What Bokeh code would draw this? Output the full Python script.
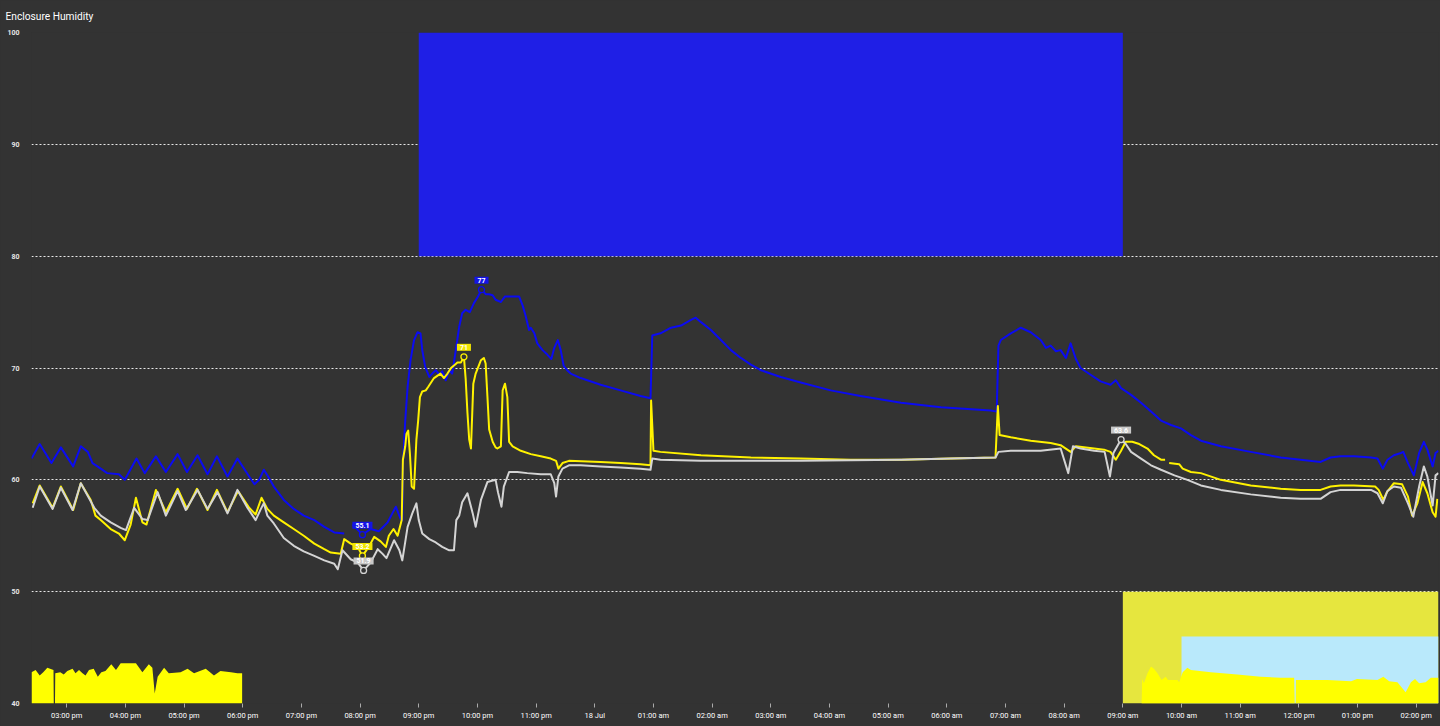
import numpy as np
from bokeh.plotting import figure
from bokeh.models import FixedTicker, Label, GlobalInlineStyleSheet
from bokeh.embed import file_html
from bokeh.resources import INLINE

nan = float("nan")

# x values: hours since 17 Jul 00:00
x_start, x_end = 14.40, 38.38

chart_title = "Enclosure Humidity"
tick_hours = list(range(15, 39))
tick_labels = ["03:00 pm", "04:00 pm", "05:00 pm", "06:00 pm", "07:00 pm", "08:00 pm",
               "09:00 pm", "10:00 pm", "11:00 pm", "18 Jul", "01:00 am", "02:00 am",
               "03:00 am", "04:00 am", "05:00 am", "06:00 am", "07:00 am", "08:00 am",
               "09:00 am", "10:00 am", "11:00 am", "12:00 pm", "01:00 pm", "02:00 pm"]
y_ticks = [40, 50, 60, 70, 80, 90, 100]

blue_t = [14.40, 14.54, 14.74, 14.90, 15.11, 15.24, 15.36, 15.44, 15.58, 15.69,
          15.89, 15.99, 16.19, 16.33, 16.52, 16.69, 16.89, 17.05, 17.23, 17.40,
          17.56, 17.74, 17.91, 18.11, 18.20, 18.28, 18.36, 18.42, 18.53, 18.70,
          18.87, 19.04, 19.22, 19.39, 19.56, 19.73, 19.80, 19.87, 20.04, 20.18,
          20.32, 20.47, 20.55, 20.61, 20.69, 20.72, 20.73, 20.77, 20.81, 20.86,
          20.92, 20.98, 21.03, 21.06, 21.11, 21.18, 21.23, 21.29, 21.35, 21.40,
          21.46, 21.52, 21.57, 21.60, 21.64, 21.69, 21.74, 21.80, 21.87, 21.94,
          22.01, 22.07, 22.14, 22.20, 22.26, 22.31, 22.40, 22.47, 22.57, 22.71,
          22.77, 22.82, 22.88, 22.91, 22.97, 23.02, 23.11, 23.19, 23.26, 23.31,
          23.37, 23.42, 23.47, 23.53, 23.59, 23.76, 24.10, 24.44, 24.78, 24.95,
          24.98, 25.12, 25.30, 25.47, 25.64, 25.72, 25.81, 25.98, 26.15, 26.32,
          26.49, 26.66, 26.83, 27.17, 27.51, 28.02, 28.53, 29.22, 29.90, 30.75,
          30.85, 30.88, 30.92, 31.09, 31.26, 31.43, 31.60, 31.69, 31.77, 31.86,
          31.94, 32.03, 32.11, 32.20, 32.28, 32.45, 32.62, 32.79, 32.88, 32.97,
          33.14, 33.31, 33.48, 33.65, 33.82, 33.99, 34.16, 34.33, 34.67, 35.18,
          35.69, 36.03, 36.37, 36.54, 36.71, 36.94, 37.23, 37.34, 37.43, 37.51,
          37.62, 37.74, 37.78, 37.86, 37.96, 38.05, 38.13, 38.19, 38.28, 38.33,
          38.38]
blue_v = [61.9, 63.2, 61.5, 62.9, 61.2, 63.0, 62.5, 61.5, 61.0, 60.6,
          60.5, 60.0, 61.9, 60.6, 62.1, 60.7, 62.3, 60.7, 62.2, 60.5,
          62.1, 60.3, 61.9, 60.3, 59.6, 60.0, 60.9, 60.4, 59.4, 58.2,
          57.4, 56.8, 56.4, 55.8, 55.3, 55.2, nan, 56.0, 55.1, 55.6,
          55.4, 56.2, 57.0, 57.6, 56.5, 56.4, 61.4, 65.3, 68.3, 70.7,
          72.5, 73.2, 73.1, 71.6, 70.1, 69.2, 69.5, 69.8, 69.4, 69.7,
          68.9, 69.8, 69.5, 70.5, 71.9, 73.7, 74.9, 75.2, 75.0, 75.8,
          76.4, 77.0, 76.6, 76.6, 76.5, 76.1, 75.9, 76.4, 76.4, 76.4,
          75.6, 74.7, 73.4, 73.6, 73.1, 72.2, 71.6, 71.2, 70.8, 71.8,
          72.5, 71.6, 70.2, 69.8, 69.5, 69.1, 68.5, 68.0, 67.5, 67.3,
          72.9, 73.1, 73.6, 73.8, 74.3, 74.5, 74.1, 73.4, 72.5, 71.6,
          70.9, 70.3, 69.8, 69.2, 68.7, 68.0, 67.5, 66.9, 66.5, 66.2,
          66.1, 72.0, 72.5, 73.1, 73.6, 73.2, 72.5, 71.8, 72.0, 71.5,
          71.6, 70.9, 72.2, 70.8, 70.0, 69.4, 68.8, 68.5, 68.9, 68.2,
          67.6, 66.9, 66.1, 65.3, 64.9, 64.6, 64.0, 63.5, 63.0, 62.5,
          62.0, 61.8, 61.6, 62.0, 62.1, 62.1, 62.0, 61.9, 61.0, 61.8,
          62.2, 62.4, 62.5, 61.5, 60.4, 62.4, 63.4, 62.7, 61.2, 62.4,
          62.6]

yellow_t = [14.42, 14.54, 14.76, 14.90, 15.11, 15.24, 15.41, 15.49, 15.58, 15.75,
            15.89, 15.99, 16.09, 16.18, 16.29, 16.36, 16.52, 16.69, 16.89, 17.05,
            17.22, 17.40, 17.56, 17.74, 17.92, 18.11, 18.22, 18.32, 18.42, 18.53,
            18.70, 18.87, 19.04, 19.22, 19.39, 19.50, 19.67, 19.73, 19.84, 19.96,
            20.04, 20.16, 20.24, 20.35, 20.44, 20.49, 20.57, 20.64, 20.71, 20.73,
            20.77, 20.79, 20.82, 20.85, 20.88, 20.92, 20.96, 20.99, 21.02, 21.06,
            21.12, 21.16, 21.26, 21.37, 21.43, 21.49, 21.55, 21.66, 21.72, 21.77,
            21.80, 21.83, 21.86, 21.89, 21.93, 21.97, 22.06, 22.11, 22.14, 22.17,
            22.20, 22.26, 22.31, 22.34, 22.40, 22.43, 22.47, 22.51, 22.54, 22.60,
            22.74, 22.91, 23.08, 23.25, 23.34, 23.38, 23.45, 23.56, 24.10, 24.44,
            24.78, 24.95, 24.96, 25.00, 25.12, 25.81, 26.66, 27.51, 28.36, 29.22,
            30.07, 30.83, 30.87, 30.90, 31.09, 31.43, 31.77, 31.94, 32.11, 32.20,
            32.51, 32.68, 32.79, 32.88, 32.97, 33.05, 33.16, 33.28, 33.42, 33.53,
            33.65, 33.72, 33.75, 33.79, 33.96, 34.02, 34.16, 34.33, 34.67, 35.18,
            35.69, 36.03, 36.37, 36.54, 36.71, 36.94, 37.30, 37.36, 37.44, 37.50,
            37.62, 37.76, 37.86, 37.93, 38.02, 38.11, 38.19, 38.28, 38.33, 38.36]
yellow_v = [57.9, 59.5, 57.5, 59.4, 57.3, 59.7, 58.2, 56.8, 56.4, 55.6,
            55.2, 54.6, 56.0, 58.4, 56.2, 56.0, 59.1, 57.1, 59.2, 57.4,
            59.2, 57.3, 59.1, 57.1, 59.0, 57.5, 56.9, 58.4, 57.4, 56.8,
            56.2, 55.6, 55.0, 54.3, 53.8, 53.5, 53.4, 54.7, 54.3, 54.0,
            53.2, 54.1, 54.9, 54.5, 54.0, 55.0, 55.6, 55.0, 56.4, 61.8,
            63.0, 64.1, 64.4, 62.3, 59.4, 59.2, 63.6, 65.3, 67.4, 67.9,
            68.0, 68.3, 69.1, 69.5, 69.1, 69.5, 70.0, 70.5, 70.5, 71.0,
            69.0, 66.0, 63.6, 62.8, 68.6, 69.5, 70.7, 70.9, 70.4, 67.5,
            64.5, 63.4, 62.9, 62.8, 63.0, 68.0, 68.6, 67.4, 63.4, 63.0,
            62.6, 62.3, 62.1, 61.9, 61.7, 61.0, 61.5, 61.7, 61.6, 61.5,
            61.4, 61.3, 67.1, 62.6, 62.5, 62.2, 62.0, 61.9, 61.8, 61.8,
            61.9, 62.0, 66.6, 64.0, 63.8, 63.5, 63.3, 63.1, 62.5, 63.0,
            62.8, 62.7, 62.5, 61.8, 62.6, 63.4, 63.4, 63.2, 62.8, 62.2,
            61.8, 61.8, nan, 61.5, 61.4, 61.0, 60.7, 60.6, 60.0, 59.5,
            59.2, 59.1, 59.1, 59.4, 59.5, 59.5, 59.4, 59.1, 58.2, 58.9,
            59.7, 59.6, 58.5, 56.8, 57.9, 59.8, 58.8, 57.1, 56.7, 58.3]

white_t = [14.42, 14.54, 14.76, 14.90, 15.10, 15.24, 15.47, 15.58, 15.75, 15.92,
           16.01, 16.15, 16.29, 16.38, 16.55, 16.69, 16.89, 17.03, 17.23, 17.40,
           17.57, 17.74, 17.91, 18.08, 18.22, 18.31, 18.36, 18.42, 18.53, 18.70,
           18.87, 19.04, 19.22, 19.39, 19.56, 19.62, 19.70, 19.84, 19.96, 20.06,
           20.18, 20.30, 20.38, 20.45, 20.58, 20.67, 20.72, 20.81, 20.89, 20.96,
           21.00, 21.06, 21.18, 21.29, 21.40, 21.52, 21.60, 21.64, 21.69, 21.74,
           21.83, 21.92, 21.97, 22.06, 22.17, 22.31, 22.35, 22.41, 22.45, 22.54,
           22.68, 22.85, 23.08, 23.25, 23.31, 23.34, 23.38, 23.45, 23.56, 23.76,
           24.10, 24.44, 24.78, 24.95, 24.98, 25.12, 25.81, 27.51, 29.22, 30.07,
           30.83, 30.88, 31.09, 31.60, 31.94, 32.07, 32.15, 32.28, 32.51, 32.69,
           32.78, 32.84, 32.97, 33.05, 33.14, 33.31, 33.48, 33.65, 33.88, 34.10,
           34.33, 34.67, 35.18, 35.69, 36.03, 36.37, 36.54, 36.71, 37.23, 37.34,
           37.43, 37.51, 37.62, 37.74, 37.86, 37.95, 38.05, 38.13, 38.19, 38.28,
           38.33, 38.38]
white_v = [57.5, 59.4, 57.4, 59.3, 57.3, 59.7, 57.5, 56.8, 56.2, 55.7,
           55.5, 57.5, 56.5, 56.4, 58.9, 56.8, 59.0, 57.3, 59.1, 57.4,
           58.9, 57.0, 59.1, 57.5, 56.4, 57.4, 57.9, 56.8, 56.1, 54.8,
           54.1, 53.6, 53.2, 52.8, 52.5, 52.0, 53.7, 52.9, 52.6, 51.9,
           52.6, 53.8, 53.4, 53.0, 54.6, 53.7, 52.8, 55.8, 57.0, 57.9,
           56.4, 55.2, 54.7, 54.4, 54.0, 53.7, 53.7, 56.4, 56.8, 58.0,
           58.8, 57.0, 55.8, 58.2, 59.8, 60.0, 58.9, 57.6, 59.4, 60.7,
           60.7, 60.6, 60.5, 60.5, 59.7, 58.5, 60.3, 61.0, 61.3, 61.3,
           61.2, 61.1, 61.0, 60.9, 61.9, 61.8, 61.7, 61.7, 61.8, 61.9,
           62.0, 62.5, 62.6, 62.6, 62.8, 60.6, 63.0, 62.8, 62.6, 62.5,
           60.3, 62.4, 63.6, 63.2, 62.5, 61.9, 61.3, 60.9, 60.4, 60.0,
           59.5, 59.1, 58.7, 58.4, 58.3, 58.3, 58.9, 59.1, 59.1, 58.8,
           57.9, 59.0, 59.4, 59.3, 57.9, 56.7, 59.4, 61.2, 60.3, 57.7,
           60.4, 60.6]

# bottom state areas (left and right yellow fills)
left_area_t = [14.40, 14.47, 14.54, 14.60, 14.67, 14.775, 14.78, 14.80, 14.805, 14.89,
               14.95, 15.01, 15.10, 15.15, 15.21, 15.27, 15.32, 15.38, 15.46, 15.53,
               15.59, 15.66, 15.76, 15.84, 15.92, 16.18, 16.29, 16.40, 16.46, 16.50,
               16.55, 16.66, 16.74, 16.94, 17.06, 17.17, 17.37, 17.51, 17.62, 17.80,
               17.91, 17.99]
left_area_v = [42.8, 43.0, 42.5, 42.8, 43.2, 43.0, 40.0, 40.0, 42.7, 42.8,
               42.6, 42.9, 43.1, 42.7, 43.0, 42.7, 42.5, 43.0, 43.1, 42.4,
               42.8, 42.9, 43.5, 43.0, 43.6, 43.6, 42.8, 43.5, 43.2, 40.9,
               42.4, 43.2, 42.7, 42.8, 43.1, 42.7, 43.1, 42.5, 42.9, 42.8,
               42.7, 42.7]
right_area_t = [33.32, 33.33, 33.36, 33.42, 33.48, 33.53, 33.59, 33.66, 33.73, 33.77,
                33.93, 33.96, 34.02, 34.10, 34.16, 34.50, 34.95, 35.35, 35.69, 35.92,
                35.93, 35.945, 35.95, 36.49, 36.89, 36.99, 37.34, 37.44, 37.54, 37.68,
                37.82, 37.91, 37.98, 38.05, 38.16, 38.25, 38.33, 38.38]
right_area_v = [40.0, 42.2, 41.8, 42.7, 43.3, 43.1, 42.7, 42.1, 42.4, 42.1,
                42.1, 41.9, 42.8, 43.2, 43.0, 42.8, 42.6, 42.4, 42.3, 42.3,
                40.0, 40.0, 42.1, 42.1, 42.0, 42.2, 42.1, 42.4, 42.0, 41.9,
                41.0, 41.9, 42.2, 41.8, 41.9, 42.3, 42.3, 42.3]

# shaded bands
band_left = [21.0, 33.0, 34.0]
band_right = [33.0, x_end, x_end]
band_bottom = [80, 40, 40]
band_top = [100, 50, 46]

assert len(blue_t) == len(blue_v)
assert len(yellow_t) == len(yellow_v)
assert len(white_t) == len(white_v)
assert len(left_area_t) == len(left_area_v)
assert len(right_area_t) == len(right_area_v)

BG = "#333333"
band_colors = ["#1f1fe6", "#e6e63e", "#b9e9fb"]
series = [
    (blue_t, blue_v, "#0b0bf2", "#1414e6"),
    (yellow_t, yellow_v, "#fff200", "#f2e600"),
    (white_t, white_v, "#d4d4d4", "#c8c8c8"),
]

p = figure(width=1440, height=726, x_range=(x_start, x_end), y_range=(40, 100),
           output_backend="svg", toolbar_location=None,
           background_fill_color=BG, border_fill_color=BG,
           min_border_left=31, min_border_right=2, min_border_top=32, min_border_bottom=23)
p.outline_line_color = None
p.stylesheets = [GlobalInlineStyleSheet(css="body { background-color: #333333; }")]

p.title.text = chart_title
p.title.text_color = "#ffffff"
p.title.text_font = "Roboto"
p.title.text_font_size = "10.2px"
p.title.text_font_style = "normal"
p.title.align = "left"
p.title.vertical_align = "top"
p.title.offset = -26
p.title.standoff = 18

p.xgrid.visible = False
p.ygrid.ticker = FixedTicker(ticks=y_ticks)
p.ygrid.grid_line_color = "#e8e8e8"
p.ygrid.grid_line_dash = "2 2"
p.ygrid.grid_line_width = 1

p.xaxis.ticker = FixedTicker(ticks=tick_hours)
p.xaxis.major_label_overrides = {h: lab for h, lab in zip(tick_hours, tick_labels)}
p.xaxis.axis_line_color = None
p.xaxis.major_tick_line_color = "#aaaaaa"
p.xaxis.major_tick_out = 4
p.xaxis.major_tick_in = 0
p.xaxis.minor_tick_line_color = None
p.xaxis.major_label_standoff = 3
p.xaxis.major_label_text_color = "#ffffff"
p.xaxis.major_label_text_font = "Roboto"
p.xaxis.major_label_text_font_size = "7.5px"

p.yaxis.ticker = FixedTicker(ticks=y_ticks)
p.yaxis.axis_line_color = None
p.yaxis.major_tick_line_color = None
p.yaxis.minor_tick_line_color = None
p.yaxis.major_label_standoff = 6
p.yaxis.major_label_text_color = "#e6e6e6"
p.yaxis.major_label_text_font = "Roboto"
p.yaxis.major_label_text_font_size = "7px"
p.yaxis.major_label_text_font_style = "bold"

p.quad(left=band_left, right=band_right, bottom=band_bottom, top=band_top,
       fill_color=band_colors, line_color=None)

p.varea(x=left_area_t, y1=[40] * len(left_area_t), y2=left_area_v, fill_color="#ffff00")
p.varea(x=right_area_t, y1=[40] * len(right_area_t), y2=right_area_v, fill_color="#ffff00")

for t, v, col, _ in series:
    p.line(t, v, line_color=col, line_width=2, line_join="round")

for t, v, col, box in series:
    arr = np.array(v, dtype=float)
    for idx in (int(np.nanargmin(arr)), int(np.nanargmax(arr))):
        p.scatter([t[idx]], [arr[idx]], size=6, fill_color=BG, line_color=col, line_width=1.3)
        p.add_layout(Label(x=t[idx], y=arr[idx], text=f"{round(arr[idx], 1):g}",
                           text_align="center", text_baseline="bottom", y_offset=6,
                           text_font="Roboto", text_font_size="7px", text_font_style="bold",
                           text_color="#ffffff", background_fill_color=box,
                           padding=(3, 1)))

open("out.html", "w").write(file_html(p, INLINE))
